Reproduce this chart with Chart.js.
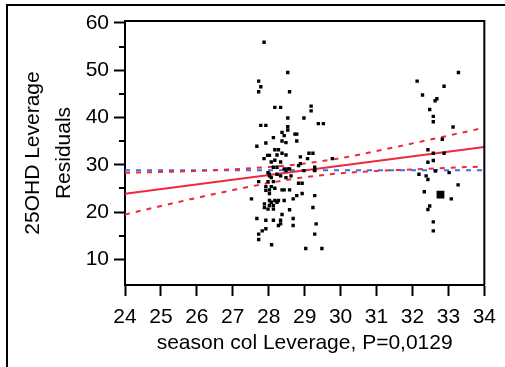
<!DOCTYPE html>
<html>
<head>
<meta charset="utf-8">
<script src="https://cdn.jsdelivr.net/npm/chart.js@4.4.1/dist/chart.umd.min.js"></script>
<style>
  html, body { margin: 0; padding: 0; background: #fff; }
  #wrap { position: relative; width: 505px; height: 367px; }
</style>
</head>
<body>
<div id="wrap"><canvas id="leverageChart" width="505" height="367"></canvas></div>
<script>
// ticks
const xTicks = [24, 25, 26, 27, 28, 29, 30, 31, 32, 33, 34];
const yTicks = [10, 20, 30, 40, 50, 60];
const yMinorTicks = [15, 25, 35, 45, 55];

// puntos (season col leverage, 25OHD leverage residuals)
const seasonX = [
  27.87, 28.53, 27.72, 27.78, 27.72, 28.58, 28.17, 28.33, 29.18, 29.18,
  28.53, 28.98, 27.78, 27.92, 29.38, 29.52, 28.53, 28.53, 28.37, 28.13,
  28.73, 28.78, 28.43, 28.37, 28.48, 28.78, 27.92, 27.67, 28.17, 28.27,
  28.37, 28.23, 28.48, 27.97, 28.02, 27.87, 28.07, 28.17, 28.33, 28.88,
  29.08, 29.12, 29.23, 28.83, 28.88, 28.13, 28.23, 28.43, 28.53, 28.48,
  28.58, 27.98, 28.02, 28.23, 28.07, 28.02, 28.33, 28.48, 28.62, 28.98,
  29.28, 29.28, 29.77, 28.83, 28.93, 28.13, 27.98, 27.72, 27.92, 28.07,
  28.17, 28.02, 28.37, 28.43, 28.58, 27.92, 28.02, 28.78, 28.93, 29.28,
  27.52, 28.17, 28.27, 28.23, 28.02, 28.07, 28.43, 28.68, 27.88, 28.02,
  28.13, 27.88, 27.98, 28.13, 28.58, 29.23, 28.37, 27.67, 27.92, 28.13,
  28.33, 28.68, 28.33, 28.27, 28.68, 29.32, 27.82, 27.72, 27.72, 29.28,
  28.08, 29.03, 29.48, 27.92,
  33.28, 32.13, 32.88, 32.28, 32.68, 32.63, 32.48, 32.58, 32.58, 33.13,
  32.83, 32.43, 32.58, 32.88, 32.43, 32.58, 32.64, 33.02, 32.18, 32.38,
  32.43, 33.27, 33.08, 32.33, 32.48, 32.43, 32.58, 32.58
];
const residualY = [
  55.9, 49.5, 47.7, 46.5, 45.45, 45.45, 42.15, 42.15, 42.4, 41.4,
  39.9, 39.9, 38.35, 38.35, 38.7, 38.7, 38.07, 37.36, 36.87, 35.75,
  36.5, 36.5, 36.17, 35.04, 34.7, 35.04, 34.62, 33.92, 33.2, 33.2,
  32.44, 32.09, 32.09, 32.0, 32.0, 31.3, 30.6, 30.96, 30.6, 31.67,
  31.3, 32.44, 32.44, 29.84, 30.26, 29.49, 29.49, 29.14, 29.14, 28.78,
  29.14, 28.36, 28.0, 28.0, 27.3, 27.66, 27.66, 27.3, 27.66, 28.78,
  29.49, 28.78, 31.3, 26.1, 26.1, 26.46, 26.46, 26.46, 25.4, 25.4,
  25.06, 24.7, 24.7, 24.7, 24.7, 24.6, 23.93, 23.5, 23.93, 23.5,
  22.8, 22.46, 22.46, 22.1, 22.46, 22.1, 22.46, 22.8, 21.75, 21.4,
  21.4, 20.98, 20.63, 20.63, 20.49, 20.98, 19.5, 18.66, 18.3, 18.3,
  18.3, 18.66, 17.53, 17.18, 17.18, 17.53, 16.05, 15.35, 14.23, 15.35,
  13.1, 12.33, 12.33, 16.48,
  49.5, 47.7, 46.6, 44.75, 43.97, 43.55, 41.7, 40.25, 39.1, 38.0,
  35.4, 33.2, 32.44, 32.44, 30.54, 30.9, 28.7, 28.36, 28.0, 27.66,
  26.9, 25.76, 22.8, 24.3, 21.3, 20.56, 17.95, 16.05
];

// punto destacado (cuadro grande)
const highlightX = [32.78];
const highlightY = [23.7];

// recta de ajuste
const fitX = [24, 34];
const fitY = [23.9, 33.75];

// curvas de confianza (rojo punteado)
const bandX = [24, 25, 26, 27, 28, 29, 30, 31, 32, 33, 34];
const bandUpper = [28.3, 28.5, 28.7, 29.06, 29.54, 30.28, 31.41, 32.9, 34.53, 36.17, 37.85];
const bandLower = [19.5, 21.29, 23.02, 24.66, 26.14, 27.38, 28.21, 28.7, 29.03, 29.37, 29.65];

// media (azul punteado)
const meanX = [24, 34];
const meanY = [28.85, 28.85];

const FONT = "'Liberation Sans', Arial, sans-serif";
const RED = '#f0283c';
const BLUE = '#3a6ff0';

const toXY = (xs, ys) => xs.map((x, i) => ({ x, y: ys[i] }));

// marco exterior, borde superior/derecho del área y ticks menores
const framePlugin = {
  id: 'frame',
  beforeDraw(chart) {
    const ctx = chart.ctx;
    ctx.save();
    ctx.fillStyle = '#fff';
    ctx.fillRect(0, 0, chart.width, chart.height);
    ctx.strokeStyle = '#000';
    ctx.lineWidth = 2;
    ctx.beginPath();
    ctx.moveTo(7, chart.height + 2);
    ctx.lineTo(7, 5);
    ctx.lineTo(chart.width + 2, 5);
    ctx.stroke();
    ctx.restore();
  },
  afterDraw(chart) {
    const { ctx, chartArea: a, scales: { y } } = chart;
    ctx.save();
    ctx.strokeStyle = '#000';
    ctx.lineWidth = 2;
    ctx.beginPath();
    ctx.moveTo(a.left, a.top);
    ctx.lineTo(a.right, a.top);
    ctx.lineTo(a.right, a.bottom);
    ctx.stroke();
    ctx.beginPath();
    yMinorTicks.forEach(v => {
      const py = Math.round(y.getPixelForValue(v));
      ctx.moveTo(a.left - 6, py);
      ctx.lineTo(a.left, py);
    });
    ctx.stroke();
    ctx.restore();
  }
};

const ctx = document.getElementById('leverageChart').getContext('2d');

new Chart(ctx, {
  type: 'scatter',
  data: {
    datasets: [
      {
        label: 'Puntos',
        data: toXY(seasonX, residualY),
        pointStyle: 'rect',
        pointRadius: 2.4,
        backgroundColor: '#000',
        borderWidth: 0
      },
      {
        label: 'Destacado',
        data: toXY(highlightX, highlightY),
        pointStyle: 'rect',
        pointRadius: 5.5,
        backgroundColor: '#000',
        borderWidth: 0
      },
      {
        label: 'Ajuste',
        data: toXY(fitX, fitY),
        showLine: true,
        pointRadius: 0,
        borderColor: RED,
        borderWidth: 2
      },
      {
        label: 'Superior',
        data: toXY(bandX, bandUpper),
        showLine: true,
        pointRadius: 0,
        borderColor: RED,
        borderWidth: 2,
        borderDash: [5, 6],
        cubicInterpolationMode: 'monotone'
      },
      {
        label: 'Inferior',
        data: toXY(bandX, bandLower),
        showLine: true,
        pointRadius: 0,
        borderColor: RED,
        borderWidth: 2,
        borderDash: [5, 6],
        cubicInterpolationMode: 'monotone'
      },
      {
        label: 'Media',
        data: toXY(meanX, meanY),
        showLine: true,
        pointRadius: 0,
        borderColor: BLUE,
        borderWidth: 2,
        borderDash: [5, 6]
      }
    ]
  },
  options: {
    responsive: false,
    animation: false,
    devicePixelRatio: 1,
    layout: { padding: { left: 0, top: 21, right: 18, bottom: 0 } },
    plugins: { legend: { display: false }, tooltip: { enabled: false } },
    scales: {
      x: {
        type: 'linear',
        min: 24,
        max: 34,
        afterBuildTicks: s => { s.ticks = xTicks.map(v => ({ value: v })); },
        afterFit: s => { s.height = 82; },
        grid: { drawOnChartArea: false, drawTicks: true, tickLength: 11, tickWidth: 2, tickColor: '#000' },
        border: { display: true, color: '#000', width: 2 },
        ticks: { color: '#000', font: { family: FONT, size: 21 }, padding: 9, maxRotation: 0, autoSkip: false },
        title: {
          display: true,
          text: 'season col Leverage, P=0,0129',
          color: '#000',
          font: { family: FONT, size: 21 },
          padding: { top: 0, bottom: 11 }
        }
      },
      y: {
        type: 'linear',
        min: 4.6,
        max: 60.4,
        afterBuildTicks: s => { s.ticks = yTicks.map(v => ({ value: v })); },
        afterFit: s => { s.width = 125; },
        grid: { drawOnChartArea: false, drawTicks: true, tickLength: 11, tickWidth: 2, tickColor: '#000' },
        border: { display: true, color: '#000', width: 2 },
        ticks: { color: '#000', font: { family: FONT, size: 21 }, padding: 5 },
        title: {
          display: true,
          text: ['25OHD Leverage', 'Residuals'],
          color: '#000',
          font: { family: FONT, size: 21, lineHeight: 1.48 },
          padding: { top: 17.5, bottom: 0 }
        }
      }
    }
  },
  plugins: [framePlugin]
});
</script>
</body>
</html>
